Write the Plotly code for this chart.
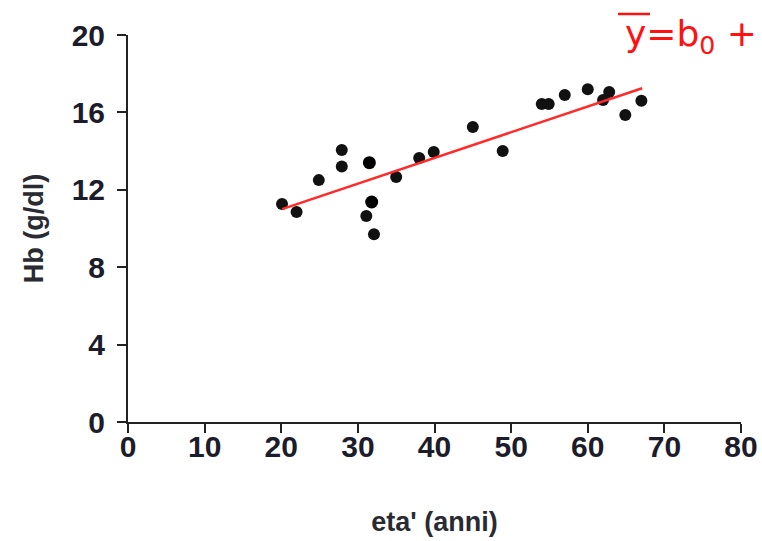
import plotly.graph_objects as go

# Age (years) and haemoglobin (g/dl) of the sampled subjects
eta = [20.1, 22.0, 24.9, 27.9, 27.9, 31.1, 32.1, 35.0, 38.0, 39.9,
       45.0, 48.9, 54.0, 54.9, 57.0, 60.0, 62.0, 62.8, 64.9, 67.0]
hb = [11.27, 10.85, 12.5, 14.06, 13.2, 10.65, 9.7, 12.66, 13.64, 13.95,
      15.25, 14.0, 16.43, 16.43, 16.9, 17.2, 16.64, 17.05, 15.87, 16.6]

# Two highlighted subjects
eta_hl = [31.5, 31.8]
hb_hl = [13.4, 11.37]

# Regression line end points
fit_eta = [20.1, 67.1]
fit_hb = [11.0, 17.25]

x_ticks = [0, 10, 20, 30, 40, 50, 60, 70, 80]
y_ticks = [0, 4, 8, 12, 16, 20]

W, H = 762, 541
M_L, M_R, M_T, M_B = 128, 21, 35, 119

fig = go.Figure()

fig.add_trace(go.Scatter(
    x=eta, y=hb, mode="markers",
    marker=dict(color="#111111", size=12, line=dict(width=0)),
    showlegend=False, cliponaxis=False,
))
fig.add_trace(go.Scatter(
    x=eta_hl, y=hb_hl, mode="markers",
    marker=dict(color="#000000", size=13, line=dict(width=0)),
    showlegend=False, cliponaxis=False,
))
fig.add_trace(go.Scatter(
    x=fit_eta, y=fit_hb, mode="lines",
    line=dict(color="#ff2a2a", width=2.5),
    showlegend=False,
))

axis_font = dict(family="Liberation Sans, Arial, sans-serif", size=30, color="#1c1c2a")
title_font = dict(family="Liberation Sans, Arial, sans-serif", size=27, color="#2a2a32")

fig.update_xaxes(
    range=[0, 80], tickvals=x_ticks, ticktext=[f"<b>{v}</b>" for v in x_ticks],
    showgrid=False, zeroline=False, showline=True, linecolor="#222222", linewidth=2,
    ticks="outside", ticklen=9, tickwidth=2, tickcolor="#222222",
    tickfont=axis_font, ticklabelstandoff=-12,
    title=dict(text="<b>eta' (anni)</b>", font=title_font, standoff=50),
)
fig.update_yaxes(
    range=[0, 20], tickvals=y_ticks, ticktext=[f"<b>{v}</b>" for v in y_ticks],
    showgrid=False, zeroline=False, showline=True, linecolor="#222222", linewidth=2,
    ticks="outside", ticklen=9, tickwidth=2, tickcolor="#222222",
    tickfont=axis_font, ticklabelstandoff=6,
    title=dict(text="<b>Hb (g/dl)</b>", font=title_font, standoff=20),
)

# Model formula in the top-right corner
fig.add_annotation(
    text="y=b<sub>0</sub> +", xref="paper", yref="paper",
    x=1.0, y=1.0, xanchor="right", yanchor="top", showarrow=False,
    font=dict(family="DejaVu Sans, sans-serif", size=36, color="#ff1111"),
    xshift=18, yshift=24,
)
# bar over the y of the formula
px_x = lambda p: (p - M_L) / (W - M_L - M_R)
px_y = lambda p: (H - M_B - p) / (H - M_T - M_B)
fig.add_shape(
    type="line", xref="paper", yref="paper",
    x0=px_x(618), x1=px_x(650), y0=px_y(14), y1=px_y(14),
    line=dict(color="#ff1111", width=2.5),
)

fig.update_layout(
    width=W, height=H,
    margin=dict(l=M_L, r=M_R, t=M_T, b=M_B, autoexpand=False),
    plot_bgcolor="white", paper_bgcolor="white",
)

fig.write_html("out.html")
